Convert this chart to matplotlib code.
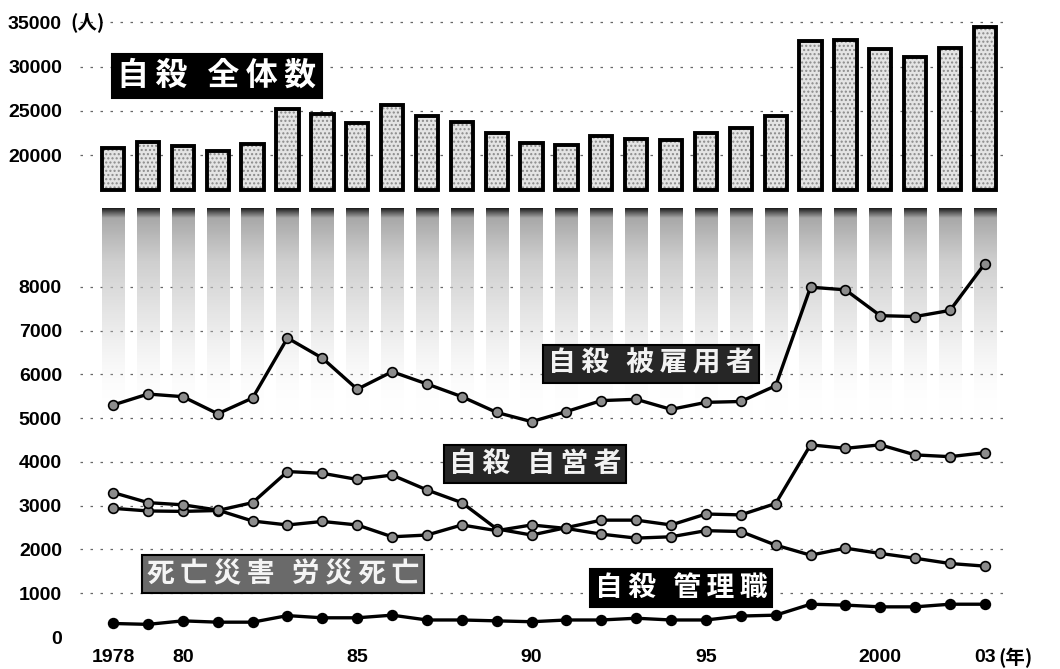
import numpy as np
import matplotlib
matplotlib.use('Agg')
import matplotlib.pyplot as plt
from matplotlib.colors import LinearSegmentedColormap

plt.rcParams['font.family'] = ['Noto Sans CJK JP', 'DejaVu Sans']

# ---------------- data ----------------
years = list(range(1978, 2004))
total_suicides = [20788, 21503, 21048, 20434, 21228, 25202, 24596, 23599, 25667, 24460,
                  23742, 22436, 21346, 21084, 22104, 21851, 21679, 22445, 23104, 24391,
                  32863, 33048, 31957, 31042, 32143, 34427]
employees = [5300, 5550, 5490, 5100, 5460, 6830, 6370, 5660, 6060, 5780, 5490, 5130, 4920,
             5150, 5400, 5430, 5200, 5360, 5380, 5740, 7990, 7930, 7340, 7320, 7460, 8530]
self_employed = [2940, 2880, 2870, 2890, 3070, 3780, 3740, 3600, 3700, 3360, 3070, 2470, 2330,
                 2500, 2670, 2670, 2560, 2810, 2790, 3050, 4390, 4310, 4390, 4160, 4120, 4210]
labor_deaths = [3300, 3070, 3020, 2900, 2650, 2560, 2640, 2560, 2290, 2330, 2560, 2430, 2560,
                2480, 2350, 2260, 2290, 2430, 2410, 2100, 1870, 2030, 1910, 1800, 1680, 1620]
managers = [310, 290, 370, 340, 340, 490, 440, 440, 500, 390, 390, 370, 350,
            390, 390, 430, 390, 390, 480, 500, 750, 730, 690, 690, 750, 750]

top_ticks = [20000, 25000, 30000, 35000]
top_tick_labels = ['20000', '25000', '30000', '35000']
low_ticks = [0, 1000, 2000, 3000, 4000, 5000, 6000, 7000, 8000]
low_tick_labels = ['0', '1000', '2000', '3000', '4000', '5000', '6000', '7000', '8000']
x_ticks = [1978, 1980, 1985, 1990, 1995, 2000, 2003]
x_tick_labels = ['1978', '80', '85', '90', '95', '2000', '03']

label_total = '自殺 全体数'
label_emp = '自殺 被雇用者'
label_self = '自殺 自営者'
label_labor = '死亡災害 労災死亡'
label_mgr = '自殺 管理職'
unit_y = '(人)'
unit_x = '(年)'

# ---------------- layout ----------------
W, H = 1060, 669
fig = plt.figure(figsize=(W / 100, H / 100), dpi=100)
fig.patch.set_facecolor('white')

def fx(px):
    return px / W

def fy(py):
    return 1 - py / H

ax_left, ax_right = 80, 1010
top_y0, top_y1 = 8, 197       # pixel rows of top axes
low_y0, low_y1 = 197, 641     # pixel rows of bottom axes

ax1 = fig.add_axes([fx(ax_left), fy(top_y1), fx(ax_right - ax_left), (top_y1 - top_y0) / H])
ax2 = fig.add_axes([fx(ax_left), fy(low_y1), fx(ax_right - ax_left), (low_y1 - low_y0) / H])

xlim = (1977.05, 2003.72)
for ax in (ax1, ax2):
    ax.set_facecolor('none')
    for s in ax.spines.values():
        s.set_visible(False)
    ax.set_xlim(*xlim)

tick_font = dict(family=['Liberation Sans', 'DejaVu Sans'], fontweight='bold', fontsize=14)
grid_kw = dict(color='#666666', linewidth=0.9, linestyle=(0, (2, 6)))

# ---------------- top: total suicides bars ----------------
bar_w = 0.64
break_bottom = 16000
heights = [t - break_bottom for t in total_suicides]
ax1.bar(years, heights, bottom=break_bottom, width=bar_w, facecolor='#e4e4e4',
        edgecolor='#8a8a8a', hatch='....', linewidth=0, zorder=2)
ax1.bar(years, heights, bottom=break_bottom, width=bar_w, facecolor='none',
        edgecolor='black', linewidth=2.8, zorder=3)
ax1.set_ylim(15250, 36630)
ax1.set_yticks(top_ticks)
ax1.set_yticklabels(top_tick_labels, **tick_font)
ax1.tick_params(axis='y', length=0, pad=13)
ax1.set_xticks([])
for v in top_ticks:
    ax1.axhline(v, zorder=1, **grid_kw)
ax1.annotate(unit_y, xy=(0, top_ticks[-1]), xycoords=ax1.get_yaxis_transform(),
             xytext=(-7, 0), textcoords='offset points', ha='left', va='center',
             fontsize=14, fontweight='bold', zorder=6)

# ---------------- bottom: continuation of bars (fading) ----------------
low_bottom, low_top = 5000, 9800
low_bars = ax2.bar(years, [low_top - low_bottom] * len(years), bottom=low_bottom,
                   width=bar_w, color='none', edgecolor='none', zorder=1)
cmap = LinearSegmentedColormap.from_list(
    'fade', [(0.0, (1, 1, 1, 0.0)), (0.4, (0.8, 0.8, 0.8, 0.35)),
             (0.75, (0.76, 0.76, 0.76, 0.8)), (0.95, (0.62, 0.62, 0.62, 0.9)),
             (1.0, (0.05, 0.05, 0.05, 1.0))])
grad = np.linspace(0, 1, 256).reshape(-1, 1)
for p in low_bars:
    x0 = p.get_x()
    w = p.get_width()
    im = ax2.imshow(grad, extent=[x0, x0 + w, low_bottom, low_top], origin='lower',
                    aspect='auto', cmap=cmap, zorder=1, interpolation='bilinear')
    im.set_clip_path(p)

# ---------------- bottom: lines ----------------
line_kw = dict(color='black', linewidth=2.4, marker='o', markersize=7,
               markerfacecolor='#8c8c8c', markeredgecolor='black', markeredgewidth=1.2, zorder=4)
ax2.plot(years, employees, **line_kw)
ax2.plot(years, self_employed, **line_kw)
ax2.plot(years, labor_deaths, **line_kw)
mgr_kw = dict(line_kw)
mgr_kw['markerfacecolor'] = 'black'
ax2.plot(years, managers, **mgr_kw)

ax2.set_xlim(*xlim)
ax2.set_ylim(-90, 10050)
ax2.set_yticks(low_ticks)
ax2.set_yticklabels(low_tick_labels, **tick_font)
ax2.tick_params(axis='y', length=0, pad=13)
for v in low_ticks[1:]:
    ax2.axhline(v, zorder=0.5, **grid_kw)
ax2.set_xticks(x_ticks)
ax2.set_xticklabels(x_tick_labels, **tick_font)
ax2.tick_params(axis='x', length=0, pad=6)
ax2.annotate(unit_x, xy=(x_ticks[-1], 0), xycoords=ax2.get_xaxis_transform(),
             xytext=(10, -5), textcoords='offset points', ha='left', va='top',
             fontsize=14, fontweight='bold')

# ---------------- label boxes ----------------
def spaced(s):
    return '\u2009'.join(s)

def label(px, py, text, fc, tc='white', size=21):
    fig.text(fx(px), fy(py), spaced(text), ha='center', va='center', color=tc,
             fontsize=size, fontweight='bold',
             family=['Noto Sans CJK JP', 'DejaVu Sans'],
             bbox=dict(boxstyle='square,pad=0.18', fc=fc, ec='black', lw=1.5), zorder=10)

label(217, 76, label_total, 'black', size=23)
label(651, 364, label_emp, '#262626', tc='#f2f2f2', size=20)
label(535, 464, label_self, '#262626', tc='#f2f2f2', size=20)
label(283, 574, label_labor, '#6a6a6a', tc='#f4f4f4', size=20)
label(681, 588, label_mgr, 'black', size=20)

fig.savefig('out.png', dpi=100, facecolor='white')
